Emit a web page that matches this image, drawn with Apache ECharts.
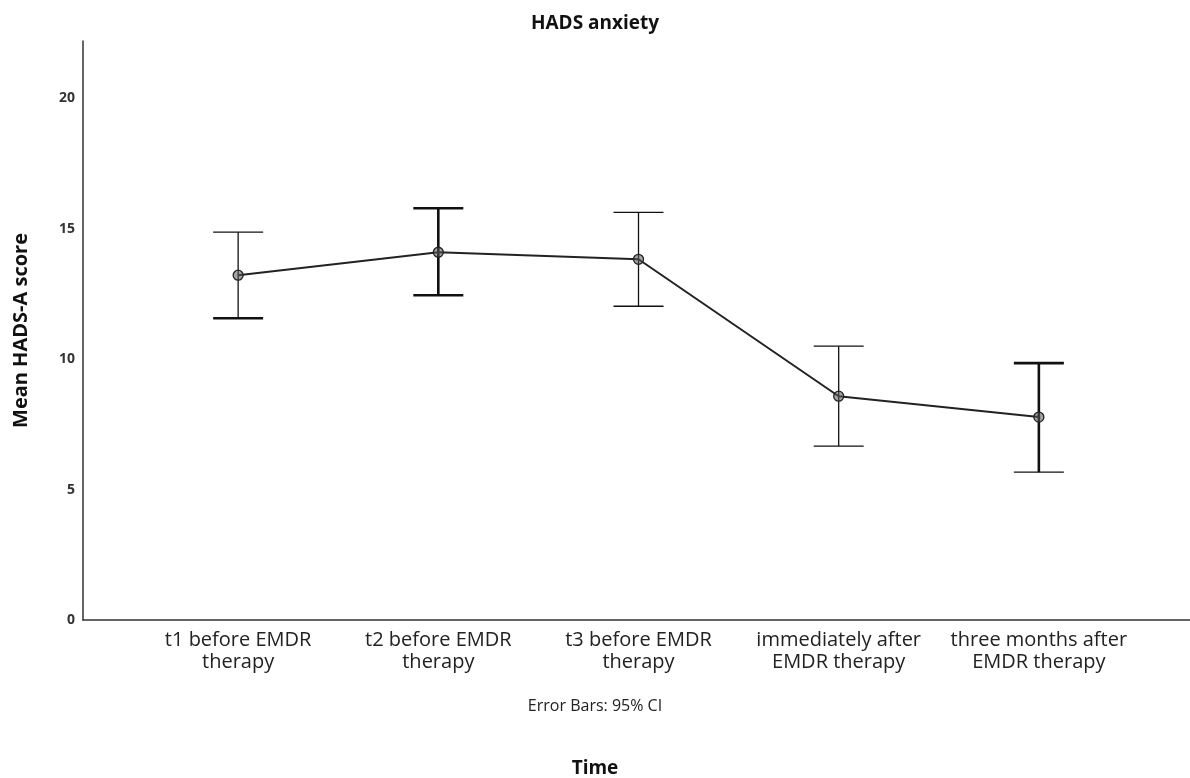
<!DOCTYPE html>
<html>
<head>
<meta charset="utf-8">
<script src="https://cdn.jsdelivr.net/npm/echarts@6/dist/echarts.min.js"></script>
<style>
html,body{margin:0;padding:0;background:#fff;}
#chart{width:1190px;height:778px;}
</style>
</head>
<body>
<div id="chart"></div>
<script>
const categories = ["t1 before EMDR\ntherapy", "t2 before EMDR\ntherapy", "t3 before EMDR\ntherapy", "immediately after\nEMDR therapy", "three months after\nEMDR therapy"];
const means = [13.22, 14.10, 13.83, 8.58, 7.78];
const ciLower = [11.57, 12.45, 12.03, 6.67, 5.67];
const ciUpper = [14.87, 15.79, 15.63, 10.50, 9.85];
const yTicks = [0, 5, 10, 15, 20];

// rendering weights (thin/thick strokes as in the original image): [upper cap, stem, lower cap]
const strokeWeights = [[1.3, 1.3, 2.6], [2.6, 2.6, 2.6], [1.3, 1.3, 1.3], [1.3, 1.3, 1.3], [2.6, 2.6, 1.3]];

const chart = echarts.init(document.getElementById('chart'));
const font = '"Open Sans", "Noto Sans", sans-serif';

const errData = categories.map((c, i) => [i, ciLower[i], ciUpper[i]]);
const lineData = categories.map((c, i) => [i, means[i]]);

chart.setOption({
  animation: false,
  backgroundColor: '#fff',
  title: [{
    text: 'HADS anxiety', left: 'center', top: 9,
    textStyle: {fontFamily: font, fontSize: 19, fontWeight: 'bold', color: '#111'}
  }, {
    text: 'Error Bars: 95% CI', left: 'center', top: 693,
    textStyle: {fontFamily: font, fontSize: 16, fontWeight: 'normal', color: '#222'}
  }, {
    text: 'Time', left: 'center', top: 754,
    textStyle: {fontFamily: font, fontSize: 19, fontWeight: 'bold', color: '#111'}
  }],
  grid: {left: 83, right: 0, top: 41, bottom: 158, containLabel: false},
  xAxis: {
    type: 'value', min: -0.775, max: 4.755,
    axisLine: {show: true, onZero: false, lineStyle: {color: '#333', width: 1.5}},
    axisTick: {show: false},
    splitLine: {show: false},
    axisLabel: {
      customValues: [0, 1, 2, 3, 4],
      formatter: v => categories[Math.round(v)] || '',
      fontFamily: font, fontSize: 20, color: '#222', lineHeight: 22, margin: 9, align: 'center'
    }
  },
  yAxis: {
    type: 'value', min: 0, max: 22.2,
    axisLine: {show: true, onZero: false, lineStyle: {color: '#333', width: 1.5}},
    axisTick: {show: false},
    splitLine: {show: false},
    name: 'Mean HADS-A score', nameLocation: 'middle', nameGap: 52, nameRotate: 90,
    nameTextStyle: {fontFamily: font, fontSize: 20, fontWeight: 'bold', color: '#111'},
    axisLabel: {
      customValues: yTicks,
      fontFamily: font, fontSize: 14, fontWeight: 'bold', color: '#333', margin: 8
    }
  },
  series: [{
    type: 'custom',
    data: errData,
    z: 3,
    renderItem: (params, api) => {
      const i = api.value(0);
      const lo = api.coord([i, api.value(1)]);
      const hi = api.coord([i, api.value(2)]);
      const w = strokeWeights[params.dataIndex];
      const hw = 25;
      const col = '#111';
      return {
        type: 'group',
        children: [
          {type: 'line', shape: {x1: hi[0], y1: hi[1], x2: lo[0], y2: lo[1]}, style: {stroke: col, lineWidth: w[1]}},
          {type: 'line', shape: {x1: hi[0] - hw, y1: hi[1], x2: hi[0] + hw, y2: hi[1]}, style: {stroke: col, lineWidth: w[0]}},
          {type: 'line', shape: {x1: lo[0] - hw, y1: lo[1], x2: lo[0] + hw, y2: lo[1]}, style: {stroke: col, lineWidth: w[2]}}
        ]
      };
    }
  }, {
    type: 'line',
    data: lineData,
    z: 4,
    symbol: 'circle', symbolSize: 10,
    lineStyle: {color: '#222', width: 2},
    itemStyle: {color: 'rgba(90,90,90,0.55)', borderColor: '#222', borderWidth: 1.3}
  }]
});
</script>
</body>
</html>
